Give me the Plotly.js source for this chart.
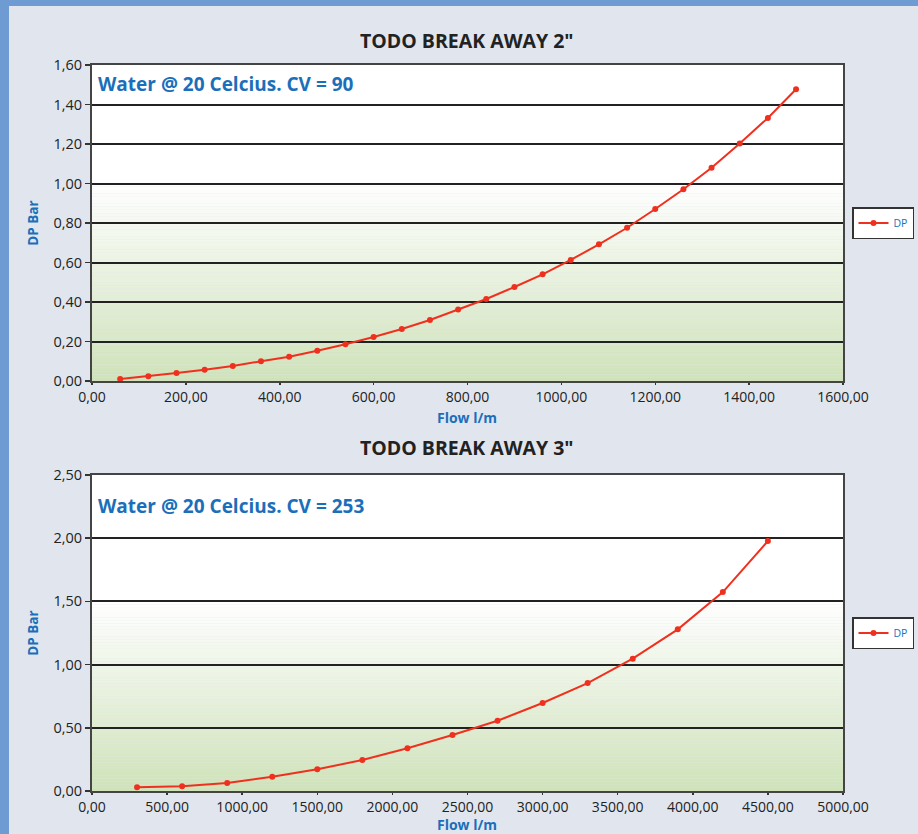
<!DOCTYPE html>
<html>
<head>
<meta charset="utf-8">
<script src="https://cdn.plot.ly/plotly-3.0.1.min.js"></script>
<style>
html,body{margin:0;padding:0;background:#e1e6ee;}
#chart{width:918px;height:834px;}
</style>
</head>
<body>
<div id="chart"></div>
<script>
// ---- data ----
const title1 = 'TODO BREAK AWAY 2"';
const title2 = 'TODO BREAK AWAY 3"';
const note1 = 'Water @ 20 Celcius. CV = 90';
const note2 = 'Water @ 20 Celcius. CV = 253';
const seriesName = 'DP';
const xTitle = 'Flow l/m';
const yTitle = 'DP Bar';

const flow2 = [60,120,180,240,300,360,420,480,540,600,660,720,780,840,900,960,1020,1080,1140,1200,1260,1320,1380,1440,1500];
const dp2   = [0.010,0.024,0.040,0.057,0.076,0.100,0.123,0.153,0.186,0.223,0.263,0.309,0.362,0.415,0.476,0.540,0.613,0.692,0.776,0.871,0.971,1.080,1.203,1.332,1.477];

const flow3 = [300,600,900,1200,1500,1800,2100,2400,2700,3000,3300,3600,3900,4200,4500];
const dp3   = [0.029,0.037,0.063,0.113,0.172,0.245,0.338,0.443,0.556,0.696,0.854,1.047,1.279,1.574,1.978];

// ---- layout helpers ----
const W = 918, H = 834;
const px = v => v / W;
const py = v => 1 - v / H;
const blue = '#1b6fba';
const red = '#f0301e';
const font = 'Open Sans, Noto Sans, sans-serif';

const traces = [
  {x: flow2, y: dp2, xaxis: 'x', yaxis: 'y', name: seriesName, mode: 'lines+markers',
   line: {color: red, width: 2}, marker: {color: red, size: 6}, legend: 'legend'},
  {x: flow3, y: dp3, xaxis: 'x2', yaxis: 'y2', name: seriesName, mode: 'lines+markers',
   line: {color: red, width: 2}, marker: {color: red, size: 6}, legend: 'legend2'}
];

function xaxis(range, dtick, anchor) {
  return {
    domain: [px(92), px(843)], range: range, dtick: dtick, tick0: 0, anchor: anchor,
    tickformat: '.2f', showgrid: false, zeroline: false,
    showline: true, mirror: true, linecolor: '#444', linewidth: 2,
    ticks: 'outside', ticklen: 2, tickcolor: '#333', tickwidth: 1.5,
    tickfont: {family: font, size: 14, color: '#222'},
    fixedrange: true
  };
}
function yaxis(domain, range, dtick, anchor) {
  return {
    domain: domain, range: range, dtick: dtick, tick0: 0, anchor: anchor,
    tickformat: '.2f', showgrid: true, gridcolor: '#222', gridwidth: 2, zeroline: false,
    showline: true, mirror: true, linecolor: '#444', linewidth: 2,
    ticks: 'outside', ticklen: 5, tickcolor: '#333', tickwidth: 1.5,
    tickfont: {family: font, size: 14.5, color: '#222'},
    title: {text: '<b>' + yTitle + '</b>', font: {family: font, size: 13.5, color: blue}, standoff: 12},
    fixedrange: true
  };
}

// gradient bands behind plot areas
const shapes = [];
function gradient(xref, yref, top) {
  const n = 60;
  const c0 = [255, 255, 255], c1 = [207, 226, 185];
  for (let i = 0; i < n; i++) {
    const t = (i + 0.5) / n; // 0 at top, 1 at bottom
    const c = c0.map((a, k) => Math.round(a + (c1[k] - a) * t));
    shapes.push({type: 'rect', xref: xref, yref: yref, layer: 'below',
      x0: 0, x1: 1, y0: top * (1 - (i + 1) / n), y1: top * (1 - i / n),
      fillcolor: 'rgb(' + c.join(',') + ')', line: {width: 0}});
  }
  shapes.push({type: 'rect', xref: xref, yref: yref, layer: 'below',
    x0: 0, x1: 1, y0: top, y1: 1, fillcolor: '#ffffff', line: {width: 0}});
}
gradient('x domain', 'y domain', 0.625);
gradient('x2 domain', 'y2 domain', 0.6);
// blue page border
shapes.push({type: 'rect', xref: 'paper', yref: 'paper', x0: 0, x1: px(9), y0: 0, y1: 1, fillcolor: '#6e9bd1', line: {width: 0}});
shapes.push({type: 'rect', xref: 'paper', yref: 'paper', x0: 0, x1: 1, y0: py(6), y1: 1, fillcolor: '#6e9bd1', line: {width: 0}});

const legendStyle = {
  font: {family: font, size: 10.5, color: blue}, bgcolor: '#ffffff', bordercolor: '#333', borderwidth: 1.5,
  xanchor: 'left', yanchor: 'middle', itemwidth: 30, tracegroupgap: 0
};

function label(text, x, y, size, color, xanchor) {
  return {text: '<b>' + text + '</b>', xref: 'paper', yref: 'paper', x: px(x), y: py(y),
    xanchor: xanchor, yanchor: 'middle', showarrow: false, font: {family: font, size: size, color: color}};
}

const layout = {
  width: W, height: H,
  margin: {l: 0, r: 0, t: 0, b: 0},
  paper_bgcolor: '#e1e6ee', plot_bgcolor: 'rgba(0,0,0,0)',
  separators: ',.',
  showlegend: true,
  xaxis: xaxis([0, 1600], 200, 'y'),
  yaxis: yaxis([py(381), py(65)], [0, 1.6], 0.2, 'x'),
  xaxis2: xaxis([0, 5000], 500, 'y2'),
  yaxis2: yaxis([py(791), py(475)], [0, 2.5], 0.5, 'x2'),
  legend: Object.assign({x: px(852), y: py(223)}, legendStyle),
  legend2: Object.assign({x: px(852), y: py(633)}, legendStyle),
  shapes: shapes,
  annotations: [
    label(title1, 467, 40, 19.5, '#222', 'center'),
    label(title2, 467, 447, 19.5, '#222', 'center'),
    label(note1, 96, 84, 19, blue, 'left'),
    label(note2, 96, 506, 19, blue, 'left'),
    label(xTitle, 467, 417, 14, blue, 'center'),
    label(xTitle, 467, 824, 14, blue, 'center')
  ]
};

Plotly.newPlot('chart', traces, layout, {displayModeBar: false, staticPlot: true});
</script>
</body>
</html>
